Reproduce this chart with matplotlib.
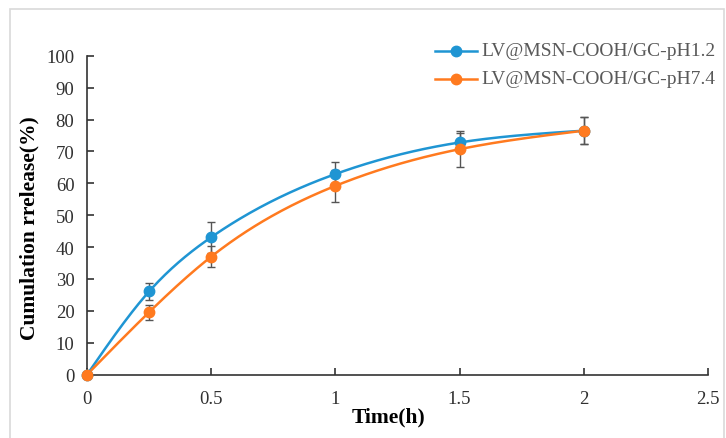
import numpy as np
import matplotlib
matplotlib.use("Agg")
import matplotlib.pyplot as plt
from matplotlib.patches import Rectangle
from matplotlib.lines import Line2D

# ============================================
# Data
# ============================================
time_h = [0, 0.25, 0.5, 1, 1.5, 2]
release_ph12 = [0, 26.1, 43.1, 62.9, 72.8, 76.5]
err_ph12 = [0, 2.6, 4.8, 3.7, 3.0, 4.2]
release_ph74 = [0, 19.6, 37.0, 59.2, 70.7, 76.5]
err_ph74 = [0, 2.3, 3.3, 5.0, 5.7, 4.2]

labels = ["LV@MSN-COOH/GC-pH1.2", "LV@MSN-COOH/GC-pH7.4"]
colors = ["#1f95d3", "#ff7a1f"]

x_ticks = [0, 0.5, 1, 1.5, 2, 2.5]
x_ticklabels = ["0", "0.5", "1", "1.5", "2", "2.5"]
y_ticks = list(range(0, 101, 10))


# ============================================
# Natural cubic spline through the points (smoothed line)
# ============================================
def smooth(xs, ys, n=300):
    x = np.asarray(xs, float)
    y = np.asarray(ys, float)
    k = len(x)
    h = np.diff(x)
    A = np.zeros((k, k))
    b = np.zeros(k)
    A[0, 0] = A[-1, -1] = 1.0
    for i in range(1, k - 1):
        A[i, i - 1] = h[i - 1]
        A[i, i] = 2 * (h[i - 1] + h[i])
        A[i, i + 1] = h[i]
        b[i] = 6 * ((y[i + 1] - y[i]) / h[i] - (y[i] - y[i - 1]) / h[i - 1])
    M = np.linalg.solve(A, b)
    xx = np.linspace(x[0], x[-1], n)
    idx = np.clip(np.searchsorted(x, xx) - 1, 0, k - 2)
    x0, x1 = x[idx], x[idx + 1]
    hh = x1 - x0
    t0, t1 = x1 - xx, xx - x0
    yy = (M[idx] * t0 ** 3 + M[idx + 1] * t1 ** 3) / (6 * hh) \
        + (y[idx] / hh - M[idx] * hh / 6) * t0 \
        + (y[idx + 1] / hh - M[idx + 1] * hh / 6) * t1
    return xx, yy


W, H = 726, 439
fig = plt.figure(figsize=(W / 100, H / 100), dpi=100)
fig.patches.append(Rectangle((10 / W, -0.05), (724 - 10) / W, 1.05 - 10 / H,
                             transform=fig.transFigure, fill=False,
                             edgecolor="#d9d9d9", linewidth=1.2))

ax = fig.add_axes([87 / W, 1 - 375.7 / H, (708 - 87) / W, (375.7 - 56.7) / H])

tick_font = dict(family="Liberation Serif", size=13.5, color="#303030")

for ys, es, c in [(release_ph12, err_ph12, colors[0]),
                  (release_ph74, err_ph74, colors[1])]:
    sx, sy = smooth(time_h, ys)
    ax.plot(sx, sy, color=c, linewidth=1.8, zorder=2)
    ax.errorbar(time_h, ys, yerr=es, fmt="none", ecolor="#555555",
                elinewidth=1.0, capsize=3.2, capthick=1.0, zorder=3)
    ax.plot(time_h, ys, "o", color=c, markersize=7.5, zorder=4,
            clip_on=False)

ax.set_xlim(0, 2.5)
ax.set_ylim(0, 100)
ax.set_xticks(x_ticks)
ax.set_xticklabels(x_ticklabels, fontdict=tick_font)
ax.set_yticks(y_ticks)
ax.set_yticklabels([str(v) for v in y_ticks], fontdict=tick_font)
ax.tick_params(direction="in", length=5, width=1.2, color="#333333")
ax.tick_params(axis="x", pad=11)
ax.tick_params(axis="y", pad=9)

for s in ["top", "right"]:
    ax.spines[s].set_visible(False)
for s in ["left", "bottom"]:
    ax.spines[s].set_color("#333333")
    ax.spines[s].set_linewidth(1.2)

fig.text(29 / W, 1 - 228 / H, "Cumulation rrelease(%)", rotation=90,
         ha="center", va="center", family="Liberation Serif",
         weight="bold", size=15.5)
fig.text(389 / W, 1 - 417 / H, "Time(h)", ha="center", va="center",
         family="Liberation Serif", weight="bold", size=15.5)

# legend drawn by hand to sit where the reference has it
for row, (lab, c) in enumerate(zip(labels, colors)):
    yy = 1 - (52 + 28 * row) / H
    fig.add_artist(Line2D([435 / W, 477 / W], [yy, yy], color=c,
                          linewidth=1.8, transform=fig.transFigure))
    fig.add_artist(Line2D([456 / W], [yy], color=c, marker="o",
                          markersize=7.5, transform=fig.transFigure))
    fig.text(481 / W, yy, lab, ha="left", va="center",
             family="Liberation Serif", size=14, color="#595959")

fig.savefig("out.png", dpi=100)
